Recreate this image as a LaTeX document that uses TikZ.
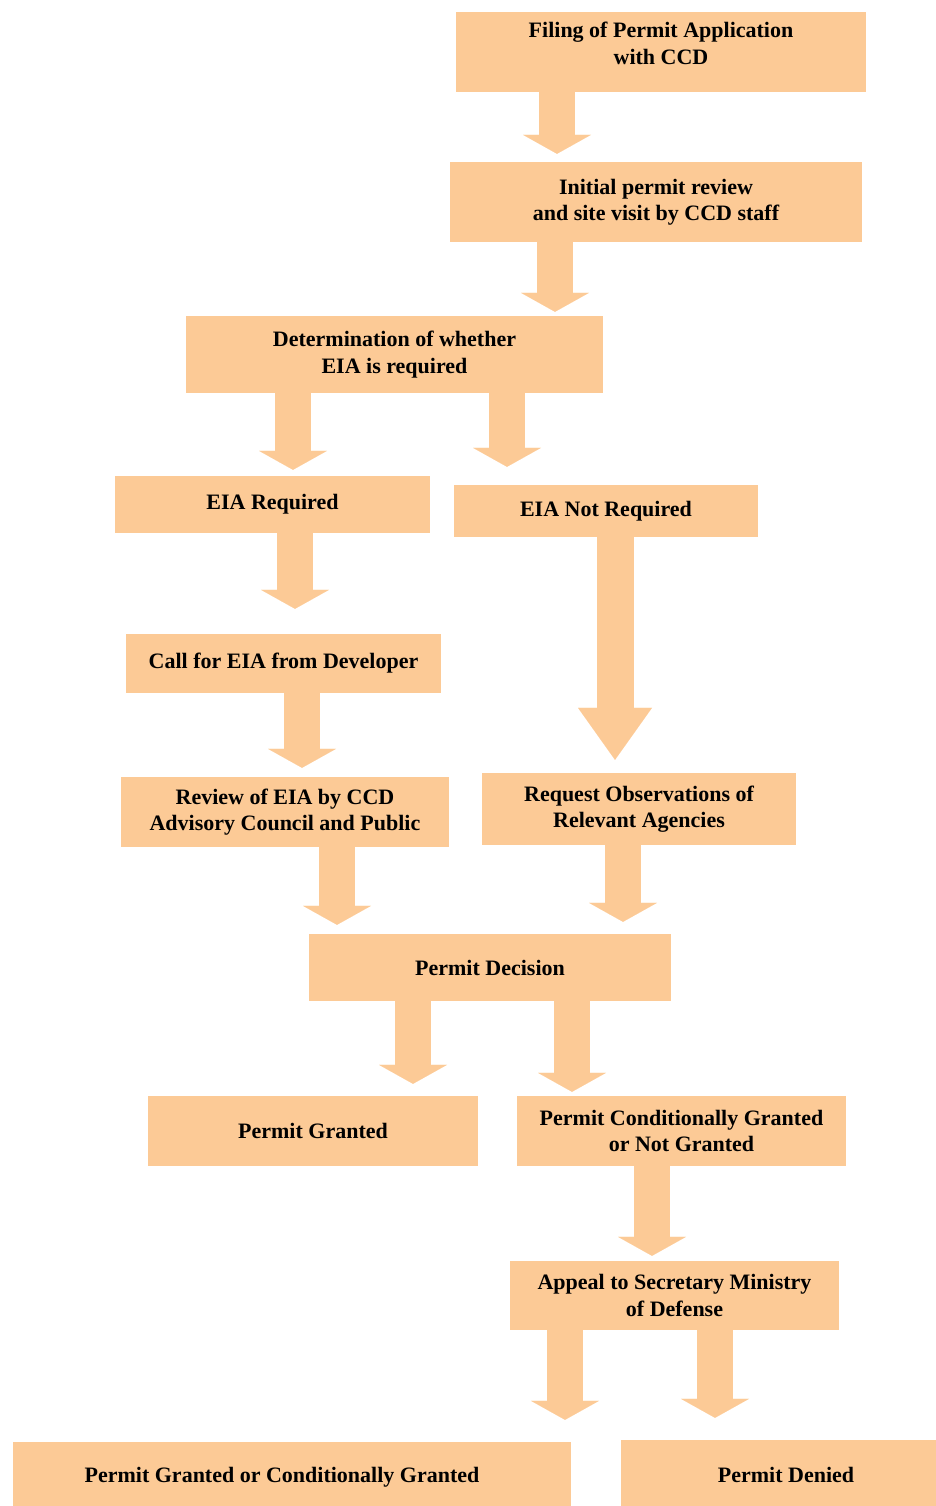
\documentclass[tikz,border=0pt]{standalone}
\usepackage{fontspec}
\setmainfont{Liberation Serif}
\usetikzlibrary{arrows.meta}

\definecolor{peach}{RGB}{252,202,150}

\tikzset{
  stage/.style={fill=peach, inner sep=0pt, align=center,
    font=\bfseries\fontsize{22}{26.5}\selectfont},
  fatarrow/.style={draw=peach, line width=36pt,
    -{Triangle[width=68pt,length=19pt,line width=0.01pt]}},
  bigarrow/.style={draw=peach, line width=37pt,
    -{Triangle[width=74pt,length=52pt,line width=0.01pt]}}
}

\begin{document}
\begin{tikzpicture}[x=1pt, y=-1pt]
%      \draw[help lines] (0,0) grid (936,1506);
      \useasboundingbox (0,0) rectangle (936,1506);

      \node[stage, minimum width=410, minimum height=80, text depth=17pt] (filing) at (661,52) {Filing of Permit Application\\with CCD};
      \node[stage, minimum width=412, minimum height=80] (initial)  at (656,202)   {Initial permit review\\and site visit by CCD staff};
      \node[stage, minimum width=417, minimum height=77] (determ)   at (394.5,354.5) {Determination of whether\\EIA is required};
      \node[stage, minimum width=315, minimum height=57] (eiareq)   at (272.5,504.5) {EIA Required};
      \node[stage, minimum width=304, minimum height=52] (eianot)   at (606,511)   {EIA Not Required};
      \node[stage, minimum width=315, minimum height=59] (callfor)  at (283.5,663.5) {Call for EIA from Developer};
      \node[stage, minimum width=328, minimum height=70] (review)   at (285,812)   {Review of EIA by CCD\\Advisory Council and Public};
      \node[stage, minimum width=314, minimum height=72] (request)  at (639,809)   {Request Observations of\\Relevant Agencies};
      \node[stage, minimum width=362, minimum height=67] (decision) at (490,967.5) {Permit Decision};
      \node[stage, minimum width=330, minimum height=70] (granted)  at (313,1131)  {Permit Granted};
      \node[stage, minimum width=329, minimum height=70] (condgr)   at (681.5,1131) {Permit Conditionally Granted\\or Not Granted};
      \node[stage, minimum width=329, minimum height=69] (appeal)   at (674.5,1295.5) {Appeal to Secretary Ministry\\of Defense};
      \node[stage, minimum width=558, minimum height=70] (finalgr)  at (292,1477)  {Permit Granted or Conditionally Granted\hspace*{20pt}};
      \node[stage, minimum width=330, minimum height=70] (denied)   at (786,1475)  {Permit Denied};

      % arrows
      \draw[fatarrow, shorten >=8pt]  (filing.south -| 557,0)   -- (initial.north -| 557,0);
      \draw[fatarrow, shorten >=4pt]  (initial.south -| 555,0)  -- (determ.north -| 555,0);
      \draw[fatarrow, shorten >=6pt]  (determ.south -| 293,0)   -- (eiareq.north -| 293,0);
      \draw[fatarrow, shorten >=18pt] (determ.south -| 507,0)   -- (eianot.north -| 507,0);
      \draw[fatarrow, shorten >=25pt] (eiareq.south -| 295,0)   -- (callfor.north -| 295,0);
      \draw[bigarrow, shorten >=13pt] (eianot.south -| 615,0)   -- (request.north -| 615,0);
      \draw[fatarrow, shorten >=9pt]  (callfor.south -| 302,0)  -- (review.north -| 302,0);
      \draw[fatarrow, shorten >=9pt]  (review.south -| 337,0)   -- (decision.north -| 337,0);
      \draw[fatarrow, shorten >=12pt] (request.south -| 623,0)  -- (decision.north -| 623,0);
      \draw[fatarrow, shorten >=12pt] (decision.south -| 413,0) -- (granted.north -| 413,0);
      \draw[fatarrow, shorten >=4pt]  (decision.south -| 572,0) -- (condgr.north -| 572,0);
      \draw[fatarrow, shorten >=5pt]  (condgr.south -| 652,0)   -- (appeal.north -| 652,0);
      \draw[fatarrow, shorten >=22pt] (appeal.south -| 565,0)   -- (finalgr.north -| 565,0);
      \draw[fatarrow, shorten >=22pt] (appeal.south -| 715,0)   -- (denied.north -| 715,0);
    \end{tikzpicture}
\end{document}
